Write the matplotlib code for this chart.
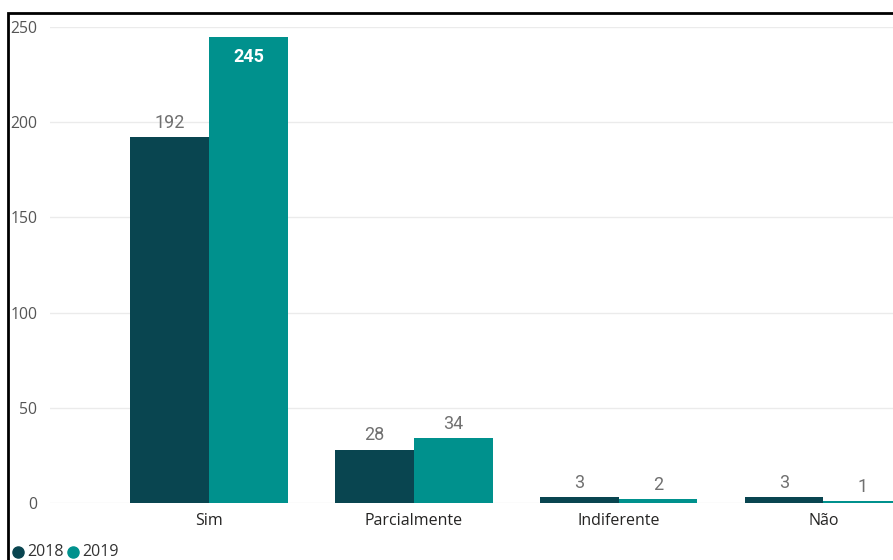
import matplotlib
matplotlib.use('Agg')
import matplotlib.pyplot as plt
import numpy as np
from matplotlib.lines import Line2D
from matplotlib.patches import Rectangle

# data
categories = ['Sim', 'Parcialmente', 'Indiferente', 'Não']
series_names = ['2018', '2019']
values_2018 = [192, 28, 3, 3]
values_2019 = [245, 34, 2, 1]
yticks = [0, 50, 100, 150, 200, 250]

colors = ['#094550', '#00918d']

W, H = 893, 560
fig = plt.figure(figsize=(W / 100, H / 100), dpi=100)

# axes placed in pixel coords of the reference
left, right, bottom, top = 50, 893, 503, 27
ax = fig.add_axes([left / W, (H - bottom) / H, (right - left) / W, (bottom - top) / H])

x = np.arange(len(categories))
width = 0.385
bars18 = ax.bar(x - width / 2, values_2018, width, color=colors[0], zorder=2)
bars19 = ax.bar(x + width / 2, values_2019, width, color=colors[1], zorder=2)

# value labels
for bars, vals in ((bars18, values_2018), (bars19, values_2019)):
    for b, v in zip(bars, vals):
        cx = b.get_x() + b.get_width() / 2
        if v > 240:
            ax.annotate(str(v), (cx, v), xytext=(0, -8), textcoords='offset points',
                        ha='center', va='top', color='white', fontsize=13,
                        fontweight='bold', family='Roboto')
        else:
            ax.annotate(str(v), (cx, v), xytext=(0, 4), textcoords='offset points',
                        ha='center', va='bottom', color='#707070', fontsize=13,
                        family='Roboto')

ax.set_xlim(-0.777, 3.34)
ax.set_ylim(0, 250)
ax.set_yticks(yticks)
ax.set_xticks(x)
ax.set_xticklabels(categories, fontsize=11.5, color='#252423', family='Open Sans')
ax.tick_params(axis='x', length=0, pad=7)
ax.tick_params(axis='y', length=0, pad=9, labelsize=11.3, labelcolor='#555555')
for lab in ax.get_yticklabels():
    lab.set_family('Open Sans')

ax.grid(axis='y', color='#ebebeb', lw=1, zorder=0)
for s in ax.spines.values():
    s.set_visible(False)

# legend at bottom left, drawn by hand to match spacing
leg_y = (H - 552) / H
leg_x = [18, 73]
for name, c, px in zip(series_names, colors, leg_x):
    fig.add_artist(Line2D([px / W], [leg_y], marker='o', ls='none', color=c,
                          markersize=8, transform=fig.transFigure))
    fig.text((px + 9) / W, leg_y, name, va='center', ha='left', fontsize=11.5,
             family='Open Sans', color='#333333')

# outer frame
fig.patches.append(Rectangle((8 / W, -0.05), 1.1, (H - 13) / H + 0.05,
                             transform=fig.transFigure, fill=False,
                             edgecolor='black', lw=2))

fig.savefig('out.png', dpi=100)
